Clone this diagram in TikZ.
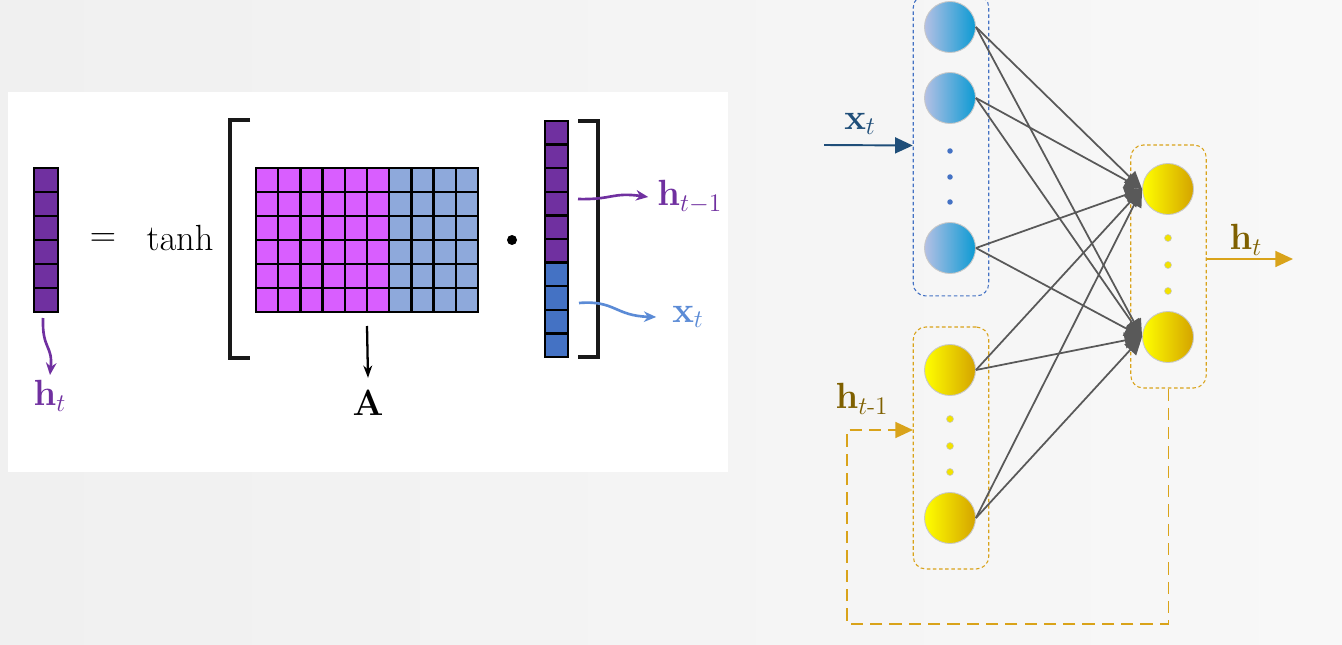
\documentclass[tikz,border=0pt]{standalone}
\usepackage{amsmath}
\usetikzlibrary{
  positioning,
  arrows.meta,
  calc,
}
\definecolor{bgLeft}{HTML}{F0F0F0}
\definecolor{bgRight}{HTML}{F8F8F8}
\definecolor{vecPurple}{HTML}{7030A0}
\definecolor{matPink}{HTML}{D95EFF}
\definecolor{matBlue}{HTML}{8EA9DB}
\definecolor{vecBlue}{HTML}{4472C4}
\definecolor{lblBlue}{HTML}{5B8BD6}
\definecolor{inLeft}{HTML}{B4C0E4}
\definecolor{inRight}{HTML}{0B9AD3}
\definecolor{hidLeft}{HTML}{FFFF00}
\definecolor{hidRight}{HTML}{D4A300}
\definecolor{nodeRim}{HTML}{C8C8C8}
\definecolor{linkCol}{HTML}{595959}
\definecolor{gold}{HTML}{D9A31A}
\definecolor{goldText}{HTML}{7F6000}
\definecolor{xText}{HTML}{1F4E79}
\definecolor{boxBlue}{HTML}{4472C4}
\definecolor{dotYel}{HTML}{F2E200}
\tikzset{
  cell/.style={draw=black, line width=1.3pt},
  bracket/.style={draw=black!90, line width=2pt},
  lbl/.style={font=\fontsize{20}{24}\selectfont, inner sep=0pt},
  curvy/.style={-{Stealth[length=7pt,width=6pt]}, line width=1.5pt},
  unitIn/.style={
    circle, minimum size=1.02cm, inner sep=0pt, draw=nodeRim, line width=0.5pt,
    left color=inLeft, right color=inRight,
  },
  unitHid/.style={unitIn, left color=hidLeft, right color=hidRight},
  layerbox/.style={
    rectangle, rounded corners=0.25cm, dash pattern=on 2pt off 1.5pt,
    line width=0.6pt, minimum width=1.51cm, inner sep=0pt,
  },
  dotB/.style={circle, fill=boxBlue, minimum size=0.11cm, inner sep=0pt},
  dotY/.style={circle, fill=dotYel, draw=nodeRim, line width=0.3pt, minimum size=0.14cm, inner sep=0pt},
  link/.style={-{Triangle[length=10pt,width=9pt]}, linkCol, line width=1pt},
  goldarrow/.style={-{Triangle[length=10pt,width=9pt]}, gold, line width=1.1pt},
}

\begin{document}
\begin{tikzpicture}[x=0.02cm, y=-0.02cm]

  \useasboundingbox (0,0) rectangle (1342,645);
  \shade[left color=bgLeft, right color=bgRight] (0,0) rectangle (1342,645);
  \fill[white] (8,92) rectangle (728,472);

  % h_t = tanh[A . (h_{t-1}; x_t)]
  \foreach \i in {0,...,5}
    \draw[cell, fill=vecPurple] (34,168+24*\i) rectangle ++(24,24);
  \coordinate (hvbot) at (43,318);
  \node[lbl, text=vecPurple] (htl) at (50,396) {$\mathbf{h}_t$};
  \draw[curvy, vecPurple] (hvbot) .. controls (42,350) and (53,345) .. ([yshift=3pt]htl.north);

  \node[lbl] (eq) at (103,240) {$=$};
  \node[lbl] (tanh) at (180,238) {$\tanh$};
  \draw[bracket] (250,120) -- (230,120) -- (230,358) -- (250,358);

  \foreach \r in {0,...,5} {
    \foreach \c in {0,...,5}
      \draw[cell, fill=matPink] (256+22.2*\c,168+24*\r) rectangle ++(22.2,24);
    \foreach \c in {6,...,9}
      \draw[cell, fill=matBlue] (256+22.2*\c,168+24*\r) rectangle ++(22.2,24);
  }
  \coordinate (mbot) at (367,326);
  \node[lbl] (Alab) at (368,403) {$\mathbf{A}$};
  \draw[-{Stealth[length=7pt,width=5pt]}, line width=1.3pt] (mbot) -- ([yshift=7pt]Alab.north);

  \node[circle, fill=black, minimum size=0.2cm, inner sep=0pt] (dotp) at (512,240) {};

  \foreach \i in {0,...,5}
    \draw[cell, fill=vecPurple] (545,121+23.6*\i) rectangle ++(23,23.6);
  \foreach \i in {6,...,9}
    \draw[cell, fill=vecBlue] (545,121+23.6*\i) rectangle ++(23,23.6);
  \draw[bracket] (578,121) -- (598,121) -- (598,357) -- (578,357);

  \coordinate (hsrc) at (578,199);
  \coordinate (xsrcl) at (579,303);
  \node[lbl, text=vecPurple, anchor=west] (hprev) at (657,197) {$\mathbf{h}_{t-1}$};
  \node[lbl, text=lblBlue, anchor=west] (xlab) at (672,317) {$\mathbf{x}_t$};
  \draw[curvy, vecPurple] (hsrc) .. controls (612,200) and (612,192) .. ([xshift=-5pt]hprev.west);
  \draw[curvy, lblBlue] (xsrcl) .. controls (615,300) and (615,316) .. ([xshift=-9pt]xlab.west);

  % layer frames
  \node[layerbox, draw=boxBlue, minimum height=6.02cm] (inbox) at (951,145.5) {};
  \node[layerbox, draw=gold, minimum height=4.84cm] (hidbox) at (951,448) {};
  \node[layerbox, draw=gold, minimum height=4.86cm] (outbox) at (1168.5,266.5) {};

  % units
  \node[unitIn] (xa) at (950,27) {};
  \node[unitIn] (xb) at (950,98) {};
  \node[unitIn] (xn) at (950,248) {};
  \node[unitHid] (ha) at (950,370) {};
  \node[unitHid] (hn) at (950,518) {};
  \node[unitHid] (oa) at (1168,189) {};
  \node[unitHid] (on) at (1168,337) {};

  \foreach \y in {151,177,202}
    \node[dotB] at (950,\y) {};
  \foreach \y in {419,446,472}
    \node[dotY] at (950,\y) {};
  \foreach \y in {238,265,291}
    \node[dotY] at (1168,\y) {};

  \foreach \s in {xa,xb,xn,ha,hn}
    \foreach \t in {oa,on}
      \draw[link] (\s.east) -- (\t.west);

  % input, output and feedback
  \coordinate (xsrc) at (824,145);
  \node[lbl, text=xText] (xtlab) at (860,124) {$\mathbf{x}_t$};
  \draw[-{Triangle[length=10pt,width=9pt]}, xText, line width=1.1pt] (xsrc) -- (inbox.west);

  \coordinate (hout) at (1293,259);
  \node[lbl, text=goldText] (htout) at (1246,240) {$\mathbf{h}_t$};
  \draw[goldarrow] (outbox.east |- hout) -- (hout);

  \coordinate (fbcorner) at (847,624);
  \coordinate (fbin) at (913,430);
  \node[lbl, text=goldText] (hprevlab) at (862,399) {$\mathbf{h}_{t\text{-}1}$};
  \draw[goldarrow, dash pattern=on 7pt off 4pt] (outbox.south) |- (fbcorner) |- (fbin);

\end{tikzpicture}
\end{document}
